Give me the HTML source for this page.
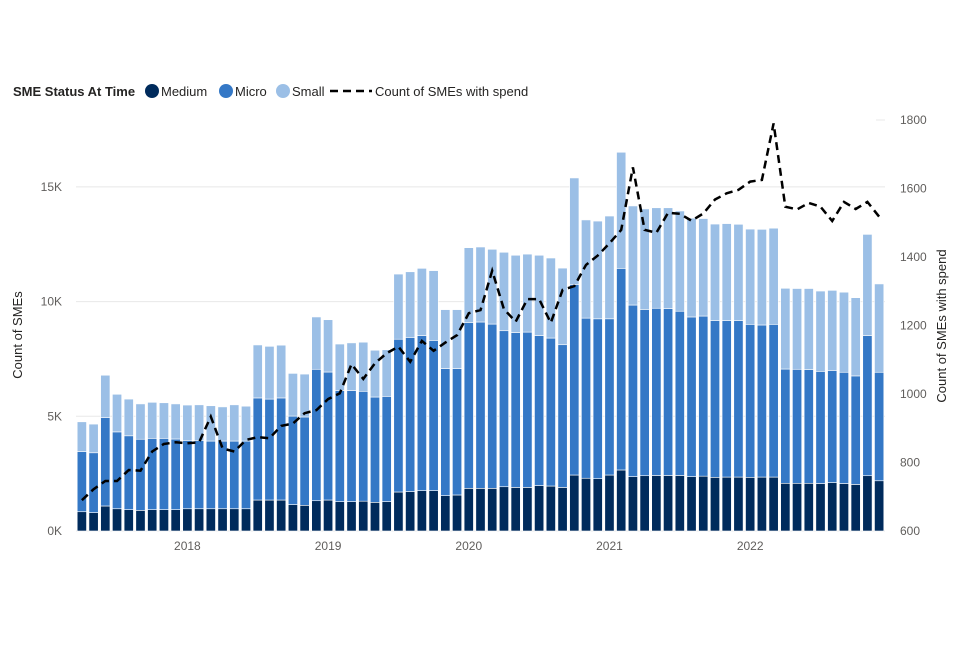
<!DOCTYPE html>
<html><head><meta charset="utf-8"><style>
body{margin:0;background:#fff;width:960px;height:640px;overflow:hidden;font-family:"Liberation Sans",sans-serif}
svg text{font-family:"Liberation Sans",sans-serif}
</style></head><body>
<svg id="c" width="960" height="640" xmlns="http://www.w3.org/2000/svg">
<g font-size="13" fill="#252423">
<text x="13" y="96" font-weight="bold">SME Status At Time</text>
<circle cx="152" cy="91" r="7" fill="#002b5c"/>
<text x="161" y="96">Medium</text>
<circle cx="226" cy="91" r="7" fill="#3478c6"/>
<text x="235" y="96">Micro</text>
<circle cx="283" cy="91" r="7" fill="#9bbfe6"/>
<text x="292" y="96">Small</text>
<line x1="330" y1="91" x2="372" y2="91" stroke="#000" stroke-width="2.5" stroke-dasharray="8,5"/>
<text x="375" y="96">Count of SMEs with spend</text>
</g>
<g id="grid"></g><g id="bars"></g><g id="line"></g><g id="axes"></g>
<text transform="translate(22,335) rotate(-90)" text-anchor="middle" font-size="13" fill="#252423">Count of SMEs</text>
<text transform="translate(946,326) rotate(-90)" text-anchor="middle" font-size="13" fill="#252423">Count of SMEs with spend</text>
</svg>
<script>
const medium=[.84,.80,1.09,.97,.93,.90,.93,.93,.93,.97,.97,.97,.97,.97,.97,1.35,1.35,1.35,1.15,1.12,1.32,1.35,1.28,1.28,1.30,1.25,1.28,1.70,1.72,1.76,1.76,1.54,1.57,1.86,1.86,1.86,1.93,1.90,1.90,1.98,1.96,1.90,2.44,2.30,2.28,2.44,2.66,2.37,2.41,2.42,2.42,2.42,2.37,2.39,2.34,2.35,2.35,2.34,2.35,2.35,2.08,2.08,2.08,2.07,2.11,2.07,2.03,2.41,2.19];
const micro=[2.62,2.61,3.85,3.35,3.22,3.10,3.11,3.11,3.08,2.98,2.98,2.95,2.95,2.95,2.95,4.45,4.40,4.45,3.86,3.85,5.73,5.58,4.84,4.84,4.79,4.59,4.59,6.66,6.72,6.76,6.55,5.54,5.51,7.22,7.25,7.16,6.80,6.75,6.77,6.54,6.45,6.22,8.31,6.98,6.97,6.81,8.79,7.48,7.25,7.29,7.28,7.16,6.96,6.98,6.83,6.82,6.82,6.67,6.63,6.66,4.98,4.97,4.96,4.89,4.89,4.85,4.73,6.11,4.73];
const small=[1.30,1.25,1.85,1.64,1.60,1.54,1.57,1.55,1.53,1.54,1.55,1.54,1.49,1.58,1.52,2.31,2.30,2.30,1.86,1.87,2.28,2.28,2.03,2.08,2.14,2.04,2.03,2.84,2.86,2.93,3.04,2.57,2.57,3.27,3.27,3.26,3.42,3.37,3.40,3.50,3.49,3.34,4.64,4.28,4.26,4.48,5.06,4.32,4.38,4.38,4.39,4.37,4.31,4.25,4.21,4.23,4.20,4.15,4.17,4.19,3.52,3.52,3.53,3.50,3.49,3.49,3.41,4.41,3.85];
const spend=[690,722,746,746,778,776,832,854,859,856,859,934,841,832,866,874,871,907,914,944,953,985,1002,1087,1044,1090,1119,1138,1094,1155,1126,1150,1172,1236,1245,1360,1248,1211,1277,1277,1208,1304,1315,1377,1404,1440,1479,1662,1479,1471,1529,1526,1506,1527,1568,1586,1596,1620,1625,1790,1547,1539,1558,1547,1505,1561,1540,1561,1518];
const leftTicks=[0,5,10,15];
const rightTicks=[600,800,1000,1200,1400,1600,1800];
const yearLabels=["2018","2019","2020","2021","2022"];
const yearIndex=[9,21,33,45,57];
const NS="http://www.w3.org/2000/svg";
const x0=76,x1=885,n=medium.length,bw=(x1-x0)/n;
const yL=v=>531-v*22.94;
const yR=v=>531-(v-600)*0.3425;
const xc=i=>x0+(i+0.5)*bw;
function mk(t,a,p){const e=document.createElementNS(NS,t);for(const k in a)e.setAttribute(k,a[k]);p.appendChild(e);return e;}
const grid=document.getElementById('grid'),bars=document.getElementById('bars'),line=document.getElementById('line'),axes=document.getElementById('axes');
leftTicks.forEach(v=>{
 const g=mk('line',{x1:x0,x2:x1,y1:yL(v),y2:yL(v),stroke:'#e8e8e8','stroke-width':1},grid);
 
 
 const t=mk('text',{x:62,y:yL(v)+4,'text-anchor':'end','font-size':12,fill:'#605e5c'},axes);
 t.textContent=v+'K';
 
 
});
rightTicks.forEach(v=>{
 const t=mk('text',{x:900,y:yR(v)+4,'font-size':12,fill:'#605e5c'},axes);
 t.textContent=v;
 
 
});
mk('line',{x1:876,x2:885,y1:yR(1800),y2:yR(1800),stroke:'#e8e8e8'},grid);
yearLabels.forEach((l,k)=>{
 const t=mk('text',{x:xc(yearIndex[k]),y:550,'text-anchor':'middle','font-size':12,fill:'#605e5c'},axes);
 t.textContent=l;
 
 
});
const cols=['#002b5c','#3478c6','#9bbfe6'];
for(let i=0;i<n;i++){
 const vals=[medium[i],micro[i],small[i]];let acc=0;
 vals.forEach((v,s)=>{
  const r=mk('rect',{x:x0+i*bw+1.2,width:bw-2.4,y:yL(acc+v),height:yL(acc)-yL(acc+v),fill:cols[s],stroke:'#fff','stroke-width':0.6},bars);
  
  
  acc+=v;
 });
}
const pts=spend.map((v,i)=>xc(i).toFixed(1)+','+yR(v).toFixed(1)).join(' ');
const pl=mk('polyline',{points:pts,fill:'none',stroke:'#000','stroke-width':2.5,'stroke-dasharray':'8,5'},line);


</script>
</body></html>
